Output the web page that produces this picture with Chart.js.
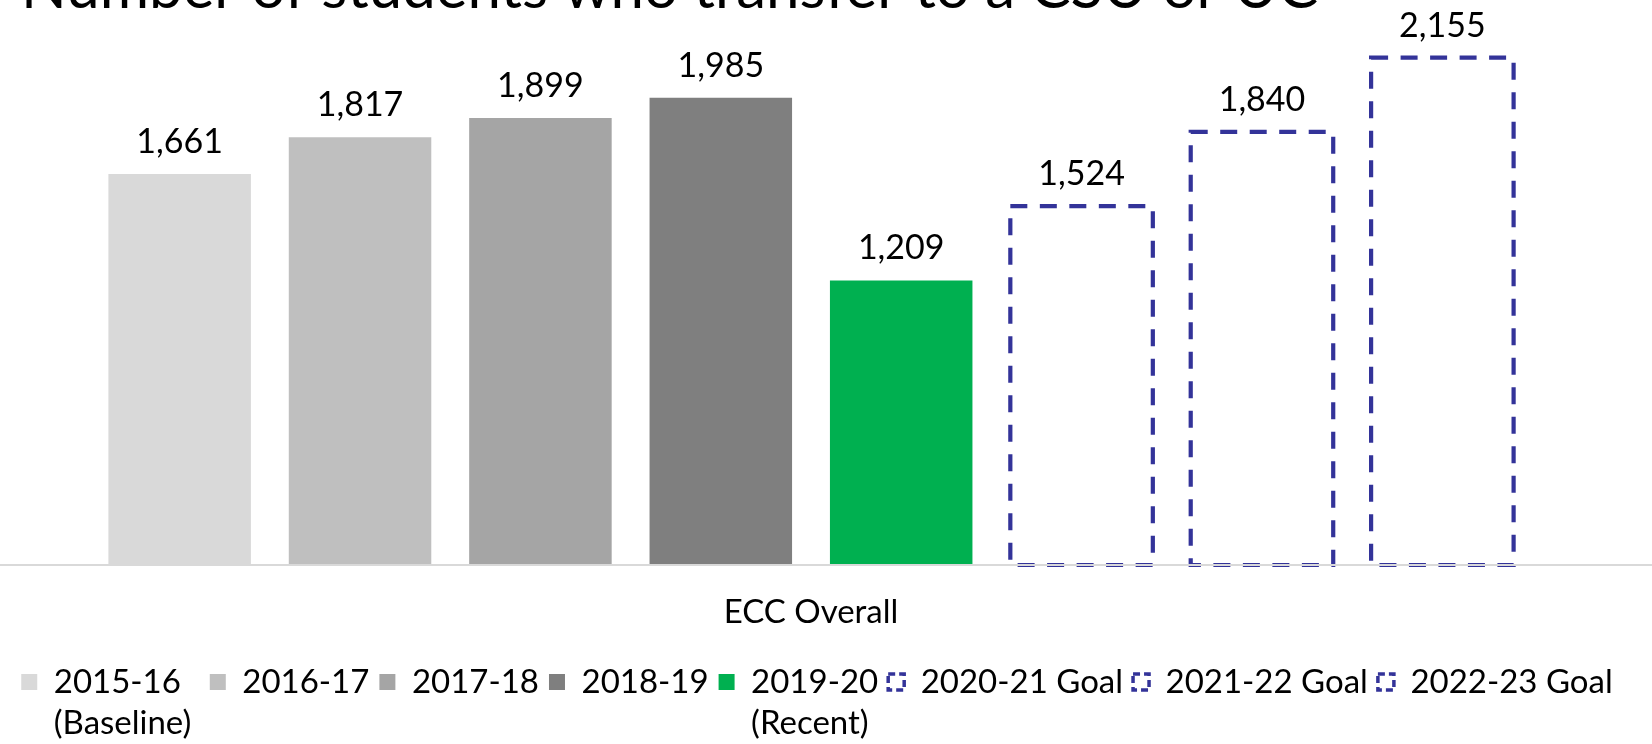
<!DOCTYPE html>
<html>
<head>
<meta charset="utf-8">
<script src="https://cdn.jsdelivr.net/npm/chart.js@4.4.1/dist/chart.umd.min.js"></script>
<style>
  html, body { margin: 0; padding: 0; background: #fff; overflow: hidden; }
  #box { position: relative; width: 1652px; height: 744px; }
</style>
</head>
<body>
<div id="box"><canvas id="transferChart"></canvas></div>
<script>
// data
const categories = ['ECC Overall'];
const seriesNames = [
    ['2015-16', '(Baseline)'],
    ['2016-17'],
    ['2017-18'],
    ['2018-19'],
    ['2019-20', '(Recent)'],
    ['2020-21 Goal'],
    ['2021-22 Goal'],
    ['2022-23 Goal']
];
const transferCounts = [1661, 1817, 1899, 1985, 1209, 1524, 1840, 2155];
const isGoal = [false, false, false, false, false, true, true, true];

// styles
const barColors = ['#D9D9D9', '#BFBFBF', '#A5A5A5', '#7F7F7F', '#00B050', '#FFFFFF', '#FFFFFF', '#FFFFFF'];
const goalColor = '#333399';
const FONT = 'Lato, "Open Sans", sans-serif';
const TEXT_SIZE = 33;

const datasets = seriesNames.map((name, i) => ({
    label: name.join(' '),
    data: [transferCounts[i]],
    backgroundColor: isGoal[i] ? 'rgba(255,255,255,0)' : barColors[i],
    borderColor: isGoal[i] ? goalColor : barColors[i],
    borderWidth: 0,
    goal: isGoal[i]
}));

// dashed outlines for goal bars, value labels, and the long baseline
const barExtras = {
    id: 'barExtras',
    afterDatasetsDraw(chart) {
        const ctx = chart.ctx;
        const zero = chart.scales.y.getPixelForValue(0);
        ctx.save();
        chart.data.datasets.forEach((ds, i) => {
            if (!ds.goal) return;
            chart.getDatasetMeta(i).data.forEach(bar => {
                const {x, y, base, width} = bar.getProps(['x', 'y', 'base', 'width'], true);
                ctx.strokeStyle = ds.borderColor;
                ctx.lineWidth = 4.2;
                ctx.setLineDash([17, 12.5]);
                ctx.strokeRect(x - width / 2, y, width, base - y);
            });
        });
        ctx.setLineDash([]);
        ctx.strokeStyle = '#D9D9D9';
        ctx.lineWidth = 2;
        ctx.beginPath();
        ctx.moveTo(0, zero);
        ctx.lineTo(chart.width, zero);
        ctx.stroke();

        ctx.fillStyle = '#000';
        ctx.font = '34px ' + FONT;
        ctx.textAlign = 'center';
        ctx.textBaseline = 'alphabetic';
        chart.data.datasets.forEach((ds, i) => {
            chart.getDatasetMeta(i).data.forEach((bar, j) => {
                const {x, y} = bar.getProps(['x', 'y'], true);
                ctx.fillText(ds.data[j].toLocaleString('en-US'), x, y - 21);
            });
        });
        ctx.restore();
    }
};

// title sits mostly above the visible area in the original
const croppedTitle = {
    id: 'croppedTitle',
    afterDraw(chart, args, opts) {
        const ctx = chart.ctx;
        ctx.save();
        ctx.font = opts.size + 'px ' + FONT;
        ctx.fillStyle = '#000';
        ctx.textAlign = 'left';
        ctx.textBaseline = 'alphabetic';
        ctx.fillText(opts.text, opts.x, opts.y);
        ctx.restore();
    }
};

// nudge the legend right a little and let the two-line entries spill below its box
const legendRoom = {
    id: 'legendRoom',
    afterLayout(chart) {
        const lg = chart.legend;
        if (!lg) return;
        lg.left += 6;
        lg.right += 6;
        lg.bottom = chart.height;
    }
};

const measureCtx = document.createElement('canvas').getContext('2d');
measureCtx.font = TEXT_SIZE + 'px ' + FONT;
const baseLegendLabels = Chart.defaults.plugins.legend.labels.generateLabels;

new Chart(document.getElementById('transferChart'), {
    type: 'bar',
    data: { labels: categories, datasets: datasets },
    plugins: [barExtras, croppedTitle, legendRoom],
    options: {
        responsive: true,
        maintainAspectRatio: false,
        animation: false,
        devicePixelRatio: 1,
        layout: { padding: { top: 0, left: 0, right: 30, bottom: 35.6 } },
        datasets: { bar: { categoryPercentage: 0.8897, barPercentage: 0.79 } },
        scales: {
            x: {
                grid: { display: false, tickLength: 3.8 },
                border: { display: false },
                ticks: {
                    color: '#000',
                    padding: 4,
                    font: { family: FONT, size: TEXT_SIZE, lineHeight: 2.382 }
                }
            },
            y: { display: false, min: 0, max: 2400 }
        },
        plugins: {
            tooltip: { enabled: false },
            croppedTitle: { text: 'Number of students who transfer to a CSU or UC', size: 60, x: 21, y: 8 },
            legend: {
                position: 'bottom',
                labels: {
                    color: '#000',
                    boxWidth: 16,
                    boxHeight: 16,
                    padding: 10,
                    font: { family: FONT, size: TEXT_SIZE, lineHeight: 1.25 },
                    generateLabels(chart) {
                        const items = baseLegendLabels(chart);
                        items.forEach((item, i) => {
                            const lines = seriesNames[i];
                            if (lines.length > 1) {
                                // measure by the widest line, draw every line
                                const text = lines.slice();
                                let widest = lines.reduce((a, b) =>
                                    measureCtx.measureText(a).width >= measureCtx.measureText(b).width ? a : b);
                                if (i === 0) widest += ' '; // first entry sits a bit wider in the original
                                text.toString = () => widest;
                                item.text = text;
                            }
                            if (isGoal[i]) {
                                item.fillStyle = '#FFFFFF';
                                item.strokeStyle = goalColor;
                                item.lineWidth = 3.5;
                                item.lineDash = [7, 4];
                            }
                        });
                        return items;
                    }
                }
            }
        }
    }
});
</script>
</body>
</html>
